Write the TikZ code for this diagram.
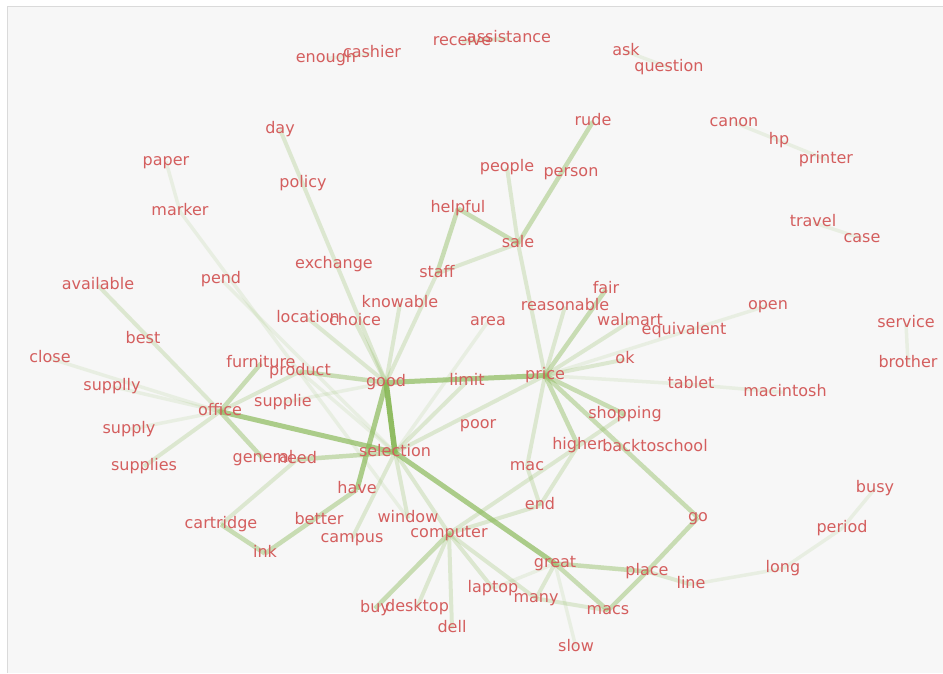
\documentclass[tikz,border=0pt]{standalone}
\usepackage{fontspec}
\setmainfont{DejaVu Sans}

\definecolor{wordred}{RGB}{212,94,94}
\definecolor{linkgreen}{RGB}{136,184,86}
\definecolor{panelgray}{RGB}{247,247,247}
\definecolor{framegray}{RGB}{218,218,218}

\pgfdeclarelayer{panel}
\pgfdeclarelayer{links}
\pgfsetlayers{panel,links,main}

\begin{document}
\begin{tikzpicture}[x=1pt,y=-1pt,
    word/.style={text=wordred, font=\fontsize{16}{16}\selectfont, inner sep=0pt, text height=11.5pt, text depth=3.5pt, yshift=-1.5pt},
    w0/.style={draw=linkgreen, line width=3.5pt, draw opacity=.13},
    w1/.style={draw=linkgreen, line width=4pt, draw opacity=.24},
    w2/.style={draw=linkgreen, line width=4.5pt, draw opacity=.42},
    w3/.style={draw=linkgreen, line width=5pt, draw opacity=.68},
    w4/.style={draw=linkgreen, line width=5.5pt, draw opacity=.92}]
    \useasboundingbox (0,0) rectangle (943,673);
    \begin{pgfonlayer}{panel}
        \fill [white] (0,0) rectangle (943,673);
        \fill [panelgray] (7,6) rectangle (943,673);
        \draw [framegray, line width=1pt] (7,673) -- (7,6) -- (943,6);
    \end{pgfonlayer}
    % words
    \node [word] (enough) at (326,57) {enough};
    \node [word] (cashier) at (372,52) {cashier};
    \node [word] (receive) at (462,40) {receive};
    \node [word] (assistance) at (509,37) {assistance};
    \node [word] (ask) at (626,50) {ask};
    \node [word] (question) at (669,66) {question};
    \node [word] (day) at (280,128) {day};
    \node [word] (rude) at (593,120) {rude};
    \node [word] (canon) at (734,121) {canon};
    \node [word] (hp) at (779,139) {hp};
    \node [word] (printer) at (826,158) {printer};
    \node [word] (paper) at (166,160) {paper};
    \node [word] (people) at (507,166) {people};
    \node [word] (person) at (571,171) {person};
    \node [word] (policy) at (303,182) {policy};
    \node [word] (marker) at (180,210) {marker};
    \node [word] (helpful) at (458,207) {helpful};
    \node [word] (travel) at (813,221) {travel};
    \node [word] (case) at (862,237) {case};
    \node [word] (sale) at (518,242) {sale};
    \node [word] (exchange) at (334,263) {exchange};
    \node [word] (staff) at (437,272) {staff};
    \node [word] (pend) at (221,278) {pend};
    \node [word] (available) at (98,284) {available};
    \node [word] (fair) at (606,288) {fair};
    \node [word] (open) at (768,304) {open};
    \node [word] (knowable) at (400,302) {knowable};
    \node [word] (reasonable) at (565,305) {reasonable};
    \node [word] (location) at (308,317) {location};
    \node [word] (choice) at (355,320) {choice};
    \node [word] (area) at (488,320) {area};
    \node [word] (walmart) at (630,320) {walmart};
    \node [word] (equivalent) at (684,329) {equivalent};
    \node [word] (service) at (906,322) {service};
    \node [word] (best) at (143,338) {best};
    \node [word] (close) at (50,357) {close};
    \node [word] (ok) at (625,358) {ok};
    \node [word] (brother) at (908,362) {brother};
    \node [word] (furniture) at (261,362) {furniture};
    \node [word] (product) at (300,370) {product};
    \node [word] (good) at (386,381) {good};
    \node [word] (limit) at (467,380) {limit};
    \node [word] (price) at (545,374) {price};
    \node [word] (tablet) at (691,383) {tablet};
    \node [word] (macintosh) at (785,391) {macintosh};
    \node [word] (supplly) at (112,385) {supplly};
    \node [word] (supplie) at (283,401) {supplie};
    \node [word] (office) at (220,410) {office};
    \node [word] (shopping) at (625,413) {shopping};
    \node [word] (poor) at (478,423) {poor};
    \node [word] (supply) at (129,428) {supply};
    \node [word] (higher) at (578,444) {higher};
    \node [word] (backtoschool) at (655,446) {backtoschool};
    \node [word] (general) at (263,457) {general};
    \node [word] (need) at (297,458) {need};
    \node [word] (selection) at (395,451) {selection};
    \node [word] (supplies) at (144,465) {supplies};
    \node [word] (mac) at (527,465) {mac};
    \node [word] (have) at (357,488) {have};
    \node [word] (busy) at (875,487) {busy};
    \node [word] (end) at (540,504) {end};
    \node [word] (cartridge) at (221,523) {cartridge};
    \node [word] (better) at (319,519) {better};
    \node [word] (window) at (408,517) {window};
    \node [word] (go) at (698,516) {go};
    \node [word] (period) at (842,527) {period};
    \node [word] (campus) at (352,537) {campus};
    \node [word] (computer) at (449,532) {computer};
    \node [word] (ink) at (265,552) {ink};
    \node [word] (great) at (555,562) {great};
    \node [word] (place) at (647,570) {place};
    \node [word] (long) at (783,567) {long};
    \node [word] (line) at (691,583) {line};
    \node [word] (laptop) at (493,587) {laptop};
    \node [word] (many) at (536,597) {many};
    \node [word] (macs) at (608,609) {macs};
    \node [word] (buy) at (375,607) {buy};
    \node [word] (desktop) at (417,606) {desktop};
    \node [word] (dell) at (452,627) {dell};
    \node [word] (slow) at (576,646) {slow};
    % links
    \begin{pgfonlayer}{links}
        \draw [w4] (good.center) -- (selection.center);
        \draw [w3] (good.center) -- (price.center);
        \draw [w3] (good.center) -- (have.center);
        \draw [w3] (selection.center) -- (office.center);
        \draw [w3] (selection.center) -- (great.center);
        \draw [w2] (good.center) -- (product.center);
        \draw [w1] (good.center) -- (choice.center);
        \draw [w1] (good.center) -- (knowable.center);
        \draw [w1] (good.center) -- (staff.center);
        \draw [w1] (good.center) -- (day.center);
        \draw [w1] (good.center) -- (location.center);
        \draw [w0] (good.center) -- (supplie.center);
        \draw [w2] (staff.center) -- (helpful.center);
        \draw [w2] (helpful.center) -- (sale.center);
        \draw [w1] (staff.center) -- (sale.center);
        \draw [w1] (people.center) -- (sale.center);
        \draw [w2] (rude.center) -- (sale.center);
        \draw [w1] (sale.center) -- (price.center);
        \draw [w2] (price.center) -- (fair.center);
        \draw [w1] (price.center) -- (reasonable.center);
        \draw [w1] (price.center) -- (walmart.center);
        \draw [w0] (price.center) -- (open.center);
        \draw [w1] (price.center) -- (ok.center);
        \draw [w0] (price.center) -- (tablet.center);
        \draw [w0] (tablet.center) -- (macintosh.center);
        \draw [w2] (price.center) -- (shopping.center);
        \draw [w2] (price.center) -- (go.center);
        \draw [w2] (price.center) -- (higher.center);
        \draw [w1] (price.center) -- (mac.center);
        \draw [w1] (price.center) -- (selection.center);
        \draw [w1] (limit.center) -- (selection.center);
        \draw [w0] (area.center) -- (selection.center);
        \draw [w2] (selection.center) -- (need.center);
        \draw [w1] (need.center) -- (cartridge.center);
        \draw [w2] (cartridge.center) -- (ink.center);
        \draw [w2] (ink.center) -- (have.center);
        \draw [w1] (selection.center) -- (campus.center);
        \draw [w1] (selection.center) -- (window.center);
        \draw [w1] (selection.center) -- (computer.center);
        \draw [w0] (selection.center) -- (pend.center);
        \draw [w0] (selection.center) -- (product.center);
        \draw [w0] (paper.center) -- (marker.center);
        \draw [w0] (marker.center) -- (window.center);
        \draw [w1] (office.center) -- (available.center);
        \draw [w0] (office.center) -- (close.center);
        \draw [w0] (office.center) -- (supplly.center);
        \draw [w0] (office.center) -- (supply.center);
        \draw [w1] (office.center) -- (supplies.center);
        \draw [w2] (office.center) -- (furniture.center);
        \draw [w1] (office.center) -- (product.center);
        \draw [w2] (office.center) -- (general.center);
        \draw [w2] (computer.center) -- (buy.center);
        \draw [w1] (computer.center) -- (desktop.center);
        \draw [w1] (computer.center) -- (dell.center);
        \draw [w1] (computer.center) -- (laptop.center);
        \draw [w1] (computer.center) -- (many.center);
        \draw [w1] (computer.center) -- (end.center);
        \draw [w1] (computer.center) -- (shopping.center);
        \draw [w1] (mac.center) -- (end.center);
        \draw [w1] (end.center) -- (higher.center);
        \draw [w2] (great.center) -- (place.center);
        \draw [w2] (great.center) -- (macs.center);
        \draw [w1] (great.center) -- (many.center);
        \draw [w0] (great.center) -- (slow.center);
        \draw [w0] (great.center) -- (laptop.center);
        \draw [w1] (many.center) -- (macs.center);
        \draw [w2] (place.center) -- (macs.center);
        \draw [w2] (place.center) -- (go.center);
        \draw [w1] (place.center) -- (line.center);
        \draw [w0] (line.center) -- (long.center);
        \draw [w0] (long.center) -- (period.center);
        \draw [w0] (period.center) -- (busy.center);
        \draw [w0] (ask.center) -- (question.center);
        \draw [w0] (canon.center) -- (hp.center);
        \draw [w0] (hp.center) -- (printer.center);
        \draw [w0] (travel.center) -- (case.center);
        \draw [w0] (service.center) -- (brother.center);
        \draw [w1] (receive.center) -- (assistance.center);
        \draw [w0] (enough.center) -- (cashier.center);
    \end{pgfonlayer}
\end{tikzpicture}
\end{document}
